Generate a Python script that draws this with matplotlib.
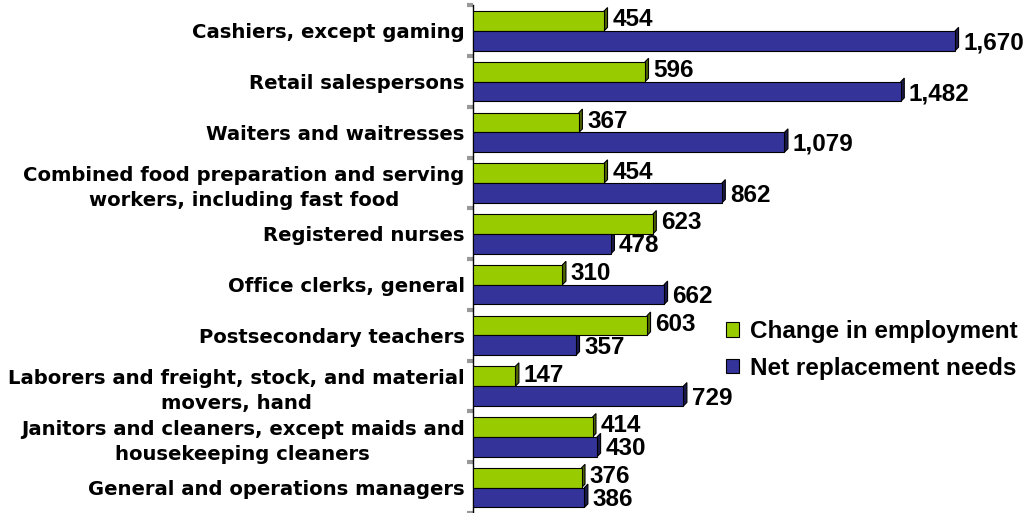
import numpy as np
import matplotlib
matplotlib.use("Agg")
import matplotlib.pyplot as plt
from matplotlib.patches import Polygon, Patch

plt.rcParams['font.family'] = ['Liberation Sans', 'DejaVu Sans']
plt.rcParams['font.weight'] = 'bold'

occupations = [
    "Cashiers, except gaming",
    "Retail salespersons",
    "Waiters and waitresses",
    "Combined food preparation and serving\nworkers, including fast food",
    "Registered nurses",
    "Office clerks, general",
    "Postsecondary teachers",
    "Laborers and freight, stock, and material\nmovers, hand",
    "Janitors and cleaners, except maids and\nhousekeeping cleaners",
    "General and operations managers",
]
change_in_employment = [454, 596, 367, 454, 623, 310, 603, 147, 414, 376]
net_replacement = [1670, 1482, 1079, 862, 478, 662, 357, 729, 430, 386]

green, green_side = "#99CC00", "#4D6600"
blue, blue_side = "#333399", "#1A1A4D"

fig = plt.figure(figsize=(10.29, 5.13), dpi=100)
ax = fig.add_axes([473 / 1029, 0.0, 1 - 473 / 1029, 1 - 5.5 / 513])

y = np.arange(len(occupations))
h = 0.39
dx, dy = 12, 0.07  # depth of the 3D side face


def draw_bars(vals, offset, face, side):
    bars = ax.barh(y + offset, vals, height=h, color=face, edgecolor="black",
                   linewidth=0.8, zorder=3)
    for b, v in zip(bars, vals):
        y0, y1 = b.get_y(), b.get_y() + b.get_height()
        poly = Polygon([(v, y1), (v + dx, y1 - dy), (v + dx, y0 - dy), (v, y0)],
                       closed=True, facecolor=side, edgecolor="black",
                       linewidth=0.8, zorder=2.5)
        ax.add_patch(poly)
    return bars


draw_bars(change_in_employment, -h / 2, green, green_side)
draw_bars(net_replacement, h / 2, blue, blue_side)

for yi, v in zip(y, change_in_employment):
    ax.text(v + 28, yi - h / 2 - 0.02, f"{v:,}", va="center", ha="left",
            fontsize=17.5, fontweight="bold")
for yi, v in zip(y, net_replacement):
    ax.text(v + 28, yi + h / 2 + 0.04, f"{v:,}", va="center", ha="left",
            fontsize=17.5, fontweight="bold")

ax.set_xlim(0, 1926)
ax.set_ylim(len(occupations) - 0.5, -0.5)
ax.set_yticks(y)
ax.set_yticklabels(occupations, fontsize=14.1, fontweight="bold",
                   family="DejaVu Sans", linespacing=1.4,
                   multialignment="center")
ax.tick_params(axis="y", which="major", length=0, pad=6)
ax.set_yticks(np.arange(-0.5, len(occupations), 1.0), minor=True)
ax.tick_params(axis="y", which="minor", length=4, width=3, color="#999999")
ax.set_xticks([])
for s in ["top", "right", "bottom"]:
    ax.spines[s].set_visible(False)
ax.spines["left"].set_linewidth(1.0)

handles = [Patch(facecolor=green, edgecolor="black", linewidth=0.8),
           Patch(facecolor=blue, edgecolor="black", linewidth=0.8)]
fig.legend(handles, ["Change in employment", "Net replacement needs"],
           loc="center left", bbox_to_anchor=(726 / 1029, 1 - 350 / 513),
           frameon=False, borderpad=0, borderaxespad=0,
           handlelength=0.55, handleheight=0.55,
           handletextpad=0.45, labelspacing=0.55,
           prop={"weight": "bold", "size": 17.5})

fig.savefig("out.png", dpi=100)
